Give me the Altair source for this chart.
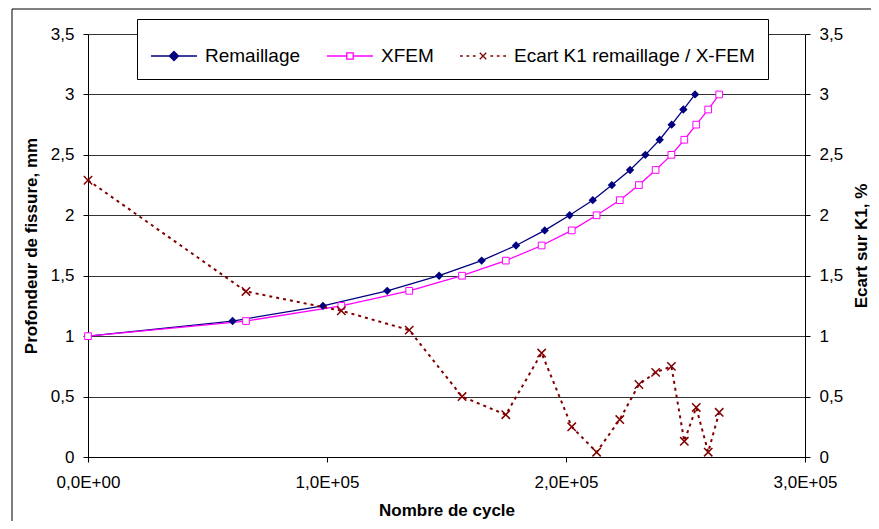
import altair as alt
import pandas as pd

series_names = ["Remaillage", "XFEM", "Ecart K1 remaillage / X-FEM"]
series_colors = ["#000080", "#FF00FF", "#800000"]

cycles_remaillage = [0, 60500, 98300, 125200, 146900, 164700, 179100, 191100, 201500,
                     211200, 219200, 226800, 233200, 239200, 244200, 249100, 254000]
depth_remaillage = [1.0, 1.125, 1.25, 1.375, 1.5, 1.625, 1.75, 1.875, 2.0,
                    2.125, 2.25, 2.375, 2.5, 2.625, 2.75, 2.875, 3.0]
cycles_xfem = [0, 66100, 106000, 134400, 156500, 174800, 189800, 202400, 212800,
               222500, 230500, 237500, 244100, 249500, 254500, 259500, 264100]
depth_xfem = [1.0, 1.125, 1.25, 1.375, 1.5, 1.625, 1.75, 1.875, 2.0,
              2.125, 2.25, 2.375, 2.5, 2.625, 2.75, 2.875, 3.0]
ecart_k1 = [2.29, 1.37, 1.21, 1.05, 0.50, 0.35, 0.86, 0.25, 0.04,
            0.31, 0.60, 0.70, 0.75, 0.13, 0.41, 0.04, 0.37]

x_ticks = [0, 100000, 200000, 300000]
x_tick_labels = ["0,0E+00", "1,0E+05", "2,0E+05", "3,0E+05"]
y_ticks = [0, 0.5, 1, 1.5, 2, 2.5, 3, 3.5]

FONT = "Liberation Sans"

df_rem = pd.DataFrame({"cycle": cycles_remaillage, "val": depth_remaillage,
                       "series": series_names[0], "order": range(len(cycles_remaillage))})
df_xf = pd.DataFrame({"cycle": cycles_xfem, "val": depth_xfem,
                      "series": series_names[1], "order": range(len(cycles_xfem))})
df_ec = pd.DataFrame({"cycle": cycles_xfem, "val": ecart_k1,
                      "series": series_names[2], "order": range(len(cycles_xfem))})
df_all = pd.concat([df_rem, df_xf, df_ec], ignore_index=True)

x_label_expr = " : ".join(
    [f"datum.value == {v} ? '{l}'" for v, l in zip(x_ticks, x_tick_labels)] + ["''"]
)

x_enc = alt.X("cycle:Q", scale=alt.Scale(domain=[0, 300000], nice=False),
              axis=alt.Axis(values=x_ticks, labelExpr=x_label_expr, grid=False, labelFlush=False,
                            title="Nombre de cycle", titlePadding=12, labelPadding=12))

y_left_axis = alt.Axis(values=y_ticks, format=".1~f", labelExpr="replace(datum.label, '.', ',')",
                       grid=True, gridColor="#333333", gridWidth=1,
                       title="Profondeur de fissure, mm", titlePadding=10, labelPadding=9)
y_right_axis = alt.Axis(values=y_ticks, format=".1~f", labelExpr="replace(datum.label, '.', ',')",
                        grid=False, orient="right", title="Ecart sur K1, %",
                        titleAngle=270, titleBaseline="top", titlePadding=11, labelPadding=9)

y_left = alt.Y("val:Q", scale=alt.Scale(domain=[0, 3.5], nice=False), axis=y_left_axis)
y_right = alt.Y("val:Q", scale=alt.Scale(domain=[0, 3.5], nice=False), axis=y_right_axis)

# legend symbols: line + marker, drawn as SVG paths
p_rem = "M-1,0H1M0,-0.2L0.2,0L0,0.2L-0.2,0Z"
p_xf = "M-1,0H-0.14M0.14,0H1M-0.14,-0.14H0.14V0.14H-0.14Z"
p_ec = ("M-1,0H-0.88M-0.72,0H-0.6M-0.44,0H-0.32M0.32,0H0.44M0.6,0H0.72M0.88,0H1"
        "M-0.14,-0.14L0.14,0.14M-0.14,0.14L0.14,-0.14")
legend_fills = ["#000080", "#ffffff", "transparent"]

legend = alt.Legend(
    orient="none", legendX=49, legendY=-15, direction="horizontal", title=None,
    strokeColor="black", fillColor="white", padding=13,
    labelFont=FONT, labelFontSize=19, labelColor="black", labelOffset=7, labelLimit=0,
    symbolSize=2116, symbolStrokeWidth=1.3, columnPadding=23, symbolOpacity=1,
)

legend_layer = alt.Chart(df_all).mark_point(opacity=0, filled=False).encode(
    x=x_enc,
    y=alt.Y("val:Q", scale=alt.Scale(domain=[0, 3.5], nice=False), axis=y_left_axis),
    stroke=alt.Stroke("series:N", scale=alt.Scale(domain=series_names, range=series_colors), legend=legend),
    fill=alt.Fill("series:N", scale=alt.Scale(domain=series_names, range=legend_fills), legend=legend),
    shape=alt.Shape("series:N", scale=alt.Scale(domain=series_names, range=[p_rem, p_xf, p_ec]), legend=legend),
)

line_rem = alt.Chart(df_rem).mark_line(color="#000080", strokeWidth=1.3).encode(
    x=x_enc, y=y_left, order="order:Q")
line_xf = alt.Chart(df_xf).mark_line(color="#FF00FF", strokeWidth=1.3).encode(
    x=x_enc, y=y_left, order="order:Q")
pts_rem = alt.Chart(df_rem).mark_point(shape="diamond", size=70, filled=True,
                                       color="#000080", opacity=1).encode(x=x_enc, y=y_left)
pts_xf = alt.Chart(df_xf).mark_point(shape="square", size=45, filled=False, fill="white",
                                     stroke="#FF00FF", strokeWidth=1, opacity=1).encode(x=x_enc, y=y_left)

left = alt.layer(line_rem, line_xf, pts_rem, pts_xf, legend_layer)

line_ec = alt.Chart(df_ec).mark_line(color="#800000", strokeWidth=2, strokeDash=[3, 4]).encode(
    x=x_enc, y=y_right, order="order:Q")
pts_ec = alt.Chart(df_ec).mark_point(shape="M-1,-1L1,1M-1,1L1,-1", size=70, filled=False,
                                     stroke="#800000", strokeWidth=1.5, opacity=1).encode(x=x_enc, y=y_right)
right = alt.layer(line_ec, pts_ec)

frame_df = pd.DataFrame({"k": [0]})
frame_left = alt.Chart(frame_df).mark_rule(color="black", strokeWidth=1, clip=False).encode(
    x=alt.value(-76), x2=alt.value(-76), y=alt.value(-25), y2=alt.value(520))
frame_top = alt.Chart(frame_df).mark_rule(color="black", strokeWidth=1, clip=False).encode(
    x=alt.value(-76), x2=alt.value(900), y=alt.value(-25), y2=alt.value(-25))

chart = alt.layer(left, right, frame_left, frame_top).resolve_scale(y="independent").properties(
    width=717, height=423,
    autosize=alt.AutoSizeParams(type="none"),
    padding={"left": 80, "top": 26, "right": 66, "bottom": 64},
).configure_view(stroke=None).configure_axis(
    labelFont=FONT, labelFontSize=17, labelColor="black",
    titleFont=FONT, titleFontSize=17, titleFontWeight="bold", titleColor="black",
    domainColor="black", tickColor="black", tickSize=5,
)

chart.save("out.html", embed_options={"renderer": "svg", "actions": False})
